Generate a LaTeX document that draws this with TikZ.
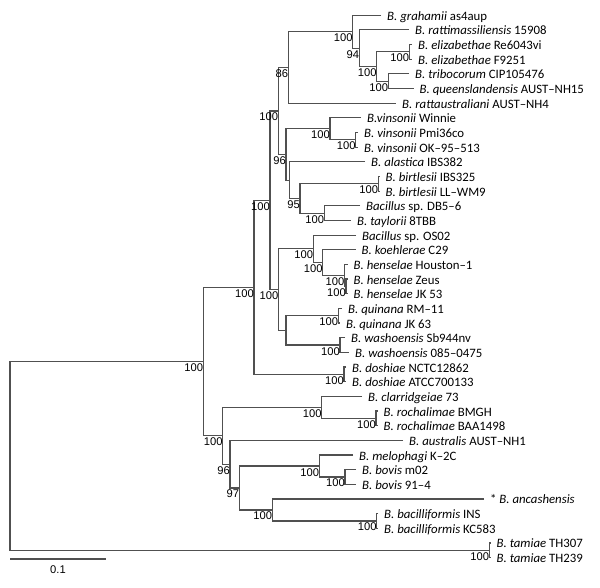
\documentclass[tikz,border=0pt]{standalone}
\usepackage{fontspec}
\setmainfont{Carlito}
\newfontfamily\bsfont{Liberation Sans}
\definecolor{linegray}{RGB}{80,80,80}
\begin{document}
\begin{tikzpicture}[x=1pt,y=-1pt,
  br/.style={draw=linegray, line width=1.2pt},
  leaf/.style={anchor=base west, inner sep=0pt, xshift=6pt, yshift=-5pt, font=\fontsize{12.8}{14}\selectfont, text=black},
  bs/.style={anchor=base east, inner sep=0pt, yshift=-10pt, font=\bsfont\fontsize{11.2}{13}\selectfont, text=black}]
\useasboundingbox (0,0) rectangle (600,587);
% leaf tips
\coordinate (l1) at (381,15.20);
\coordinate (l2) at (409,29.86);
\coordinate (l3) at (412,44.52);
\coordinate (l4) at (412,59.18);
\coordinate (l5) at (409,73.84);
\coordinate (l6) at (413.5,88.50);
\coordinate (l7) at (396,103.16);
\coordinate (l8) at (361,117.82);
\coordinate (l9) at (358,132.48);
\coordinate (l10) at (358,147.14);
\coordinate (l11) at (365,161.80);
\coordinate (l12) at (379.5,176.46);
\coordinate (l13) at (379.5,191.12);
\coordinate (l14) at (360,205.78);
\coordinate (l15) at (351,220.44);
\coordinate (l16) at (356,235.10);
\coordinate (l17) at (355.5,249.76);
\coordinate (l18) at (347.5,264.42);
\coordinate (l19) at (347.5,279.08);
\coordinate (l20) at (347.5,293.74);
\coordinate (l21) at (342,308.40);
\coordinate (l22) at (340,323.06);
\coordinate (l23) at (345,337.72);
\coordinate (l24) at (349,352.38);
\coordinate (l25) at (346,367.04);
\coordinate (l26) at (346,381.70);
\coordinate (l27) at (362,396.36);
\coordinate (l28) at (377.5,411.02);
\coordinate (l29) at (377.5,425.68);
\coordinate (l30) at (403,440.34);
\coordinate (l31) at (353,455.00);
\coordinate (l32) at (356,469.66);
\coordinate (l33) at (356,484.32);
\coordinate (l34) at (484,498.98);
\coordinate (l35) at (378,513.64);
\coordinate (l36) at (378,528.30);
\coordinate (l37) at (490.5,542.96);
\coordinate (l38) at (490.5,557.62);
% internal nodes
\coordinate (Z3) at (388.3,81.17);
\coordinate (El) at (409.3,51.85);
\coordinate (Z2) at (376.7,66.51);
\coordinate (Z) at (359.3,48.19);
\coordinate (Gr) at (352.7,31.70);
\coordinate (G) at (288.3,67.43);
\coordinate (V2) at (355.7,139.81);
\coordinate (V) at (330,128.82);
\coordinate (Bi) at (378.3,183.79);
\coordinate (L) at (324.3,213.11);
\coordinate (K) at (300,198.45);
\coordinate (J) at (289.3,180.13);
\coordinate (I) at (286,154.48);
\coordinate (H) at (278.3,110.96);
\coordinate (P2) at (346,286.41);
\coordinate (P) at (344.5,275.42);
\coordinate (O) at (322.7,262.59);
\coordinate (N) at (313.3,248.85);
\coordinate (Qu) at (338.3,315.73);
\coordinate (Wa) at (340,345.05);
\coordinate (Q) at (286,330.39);
\coordinate (M) at (278.5,289.62);
\coordinate (D) at (270,200.29);
\coordinate (Dsh) at (344,374.37);
\coordinate (C) at (254,287.33);
\coordinate (Ro) at (376,418.35);
\coordinate (S) at (321.7,407.36);
\coordinate (Bo) at (345,476.99);
\coordinate (X) at (319.3,466.00);
\coordinate (Ba) at (376.7,520.97);
\coordinate (Y) at (272.3,509.98);
\coordinate (W) at (239.3,487.99);
\coordinate (U) at (230,464.17);
\coordinate (B) at (222.7,435.77);
\coordinate (A) at (203.3,361.55);
\coordinate (T) at (489.3,550.29);
\coordinate (R) at (10,455.92);
% branches
\draw[br] (A) -| (R) |- (T);
\draw[br] (C) -| (A) |- (B);
\draw[br] (D) -| (C) |- (Dsh);
\draw[br] (H) -| (D) |- (M);
\draw[br] (G) -| (H) |- (I);
\draw[br] (Gr) -| (G) |- (l7);
\draw[br] (l1) -| (Gr) |- (Z);
\draw[br] (l2) -| (Z) |- (Z2);
\draw[br] (El) -| (Z2) |- (Z3);
\draw[br] (l3) -| (El) |- (l4);
\draw[br] (l5) -| (Z3) |- (l6);
\draw[br] (V) -| (I) |- (J);
\draw[br] (l8) -| (V) |- (V2);
\draw[br] (l9) -| (V2) |- (l10);
\draw[br] (l11) -| (J) |- (K);
\draw[br] (Bi) -| (K) |- (L);
\draw[br] (l12) -| (Bi) |- (l13);
\draw[br] (l14) -| (L) |- (l15);
\draw[br] (N) -| (M) |- (Q);
\draw[br] (l16) -| (N) |- (O);
\draw[br] (l17) -| (O) |- (P);
\draw[br] (l18) -| (P) |- (P2);
\draw[br] (l19) -| (P2) |- (l20);
\draw[br] (Qu) -| (Q) |- (Wa);
\draw[br] (l21) -| (Qu) |- (l22);
\draw[br] (l23) -| (Wa) |- (l24);
\draw[br] (l25) -| (Dsh) |- (l26);
\draw[br] (S) -| (B) |- (U);
\draw[br] (l27) -| (S) |- (Ro);
\draw[br] (l28) -| (Ro) |- (l29);
\draw[br] (l30) -| (U) |- (W);
\draw[br] (X) -| (W) |- (Y);
\draw[br] (l31) -| (X) |- (Bo);
\draw[br] (l32) -| (Bo) |- (l33);
\draw[br] (l34) -| (Y) |- (Ba);
\draw[br] (l35) -| (Ba) |- (l36);
\draw[br] (l37) -| (T) |- (l38);
% bootstrap values
\node[bs] (bGr) at (Gr) {100};
\node[bs] (bZ) at (Z) {94};
\node[bs] (bZ2) at (Z2) {100};
\node[bs] (bEl) at (El) {100};
\node[bs] (bZ3) at (Z3) {100};
\node[bs] (bG) at (G) {86};
\node[bs] (bH) at (H) {100};
\node[bs] (bV) at (V) {100};
\node[bs] (bV2) at (V2) {100};
\node[bs] (bI) at (I) {96};
\node[bs] (bK) at (K) {95};
\node[bs] (bBi) at (Bi) {100};
\node[bs] (bL) at (L) {100};
\node[bs] (bD) at (D) {100};
\node[bs] (bM) at (M) {100};
\node[bs] (bN) at (N) {100};
\node[bs] (bO) at (O) {100};
\node[bs] (bP) at (P) {100};
\node[bs] (bP2) at (P2) {100};
\node[bs] (bQu) at (Qu) {100};
\node[bs] (bWa) at (Wa) {100};
\node[bs] (bDsh) at (Dsh) {100};
\node[bs] (bC) at (C) {100};
\node[bs] (bA) at (A) {100};
\node[bs] (bS) at (S) {100};
\node[bs] (bRo) at (Ro) {100};
\node[bs] (bB) at (B) {100};
\node[bs] (bU) at (U) {96};
\node[bs] (bW) at (W) {97};
\node[bs] (bX) at (X) {100};
\node[bs] (bBo) at (Bo) {100};
\node[bs] (bY) at (Y) {100};
\node[bs] (bBa) at (Ba) {100};
\node[bs] (bT) at (T) {100};
% leaf labels
\node[leaf] (t1) at (l1) {\textit{B. grahamii} as4aup};
\node[leaf] (t2) at (l2) {\textit{B. rattimassiliensis} 15908};
\node[leaf] (t3) at (l3) {\textit{B. elizabethae} Re6043vi};
\node[leaf] (t4) at (l4) {\textit{B. elizabethae} F9251};
\node[leaf] (t5) at (l5) {\textit{B. tribocorum} CIP105476};
\node[leaf] (t6) at (l6) {\textit{B. queenslandensis} AUST–NH15};
\node[leaf] (t7) at (l7) {\textit{B. rattaustraliani} AUST–NH4};
\node[leaf] (t8) at (l8) {\textit{B.vinsonii} Winnie};
\node[leaf] (t9) at (l9) {\textit{B. vinsonii} Pmi36co};
\node[leaf] (t10) at (l10) {\textit{B. vinsonii} OK–95–513};
\node[leaf] (t11) at (l11) {\textit{B. alastica} IBS382};
\node[leaf] (t12) at (l12) {\textit{B. birtlesii} IBS325};
\node[leaf] (t13) at (l13) {\textit{B. birtlesii} LL–WM9};
\node[leaf] (t14) at (l14) {\textit{Bacillus} sp. DB5–6};
\node[leaf] (t15) at (l15) {\textit{B. taylorii} 8TBB};
\node[leaf] (t16) at (l16) {\textit{Bacillus} sp. OS02};
\node[leaf] (t17) at (l17) {\textit{B. koehlerae} C29};
\node[leaf] (t18) at (l18) {\textit{B. henselae} Houston–1};
\node[leaf] (t19) at (l19) {\textit{B. henselae} Zeus};
\node[leaf] (t20) at (l20) {\textit{B. henselae} JK 53};
\node[leaf] (t21) at (l21) {\textit{B. quinana} RM–11};
\node[leaf] (t22) at (l22) {\textit{B. quinana} JK 63};
\node[leaf] (t23) at (l23) {\textit{B. washoensis} Sb944nv};
\node[leaf] (t24) at (l24) {\textit{B. washoensis} 085–0475};
\node[leaf] (t25) at (l25) {\textit{B. doshiae} NCTC12862};
\node[leaf] (t26) at (l26) {\textit{B. doshiae} ATCC700133};
\node[leaf] (t27) at (l27) {\textit{B. clarridgeiae} 73};
\node[leaf] (t28) at (l28) {\textit{B. rochalimae} BMGH};
\node[leaf] (t29) at (l29) {\textit{B. rochalimae} BAA1498};
\node[leaf] (t30) at (l30) {\textit{B. australis} AUST–NH1};
\node[leaf] (t31) at (l31) {\textit{B. melophagi} K–2C};
\node[leaf] (t32) at (l32) {\textit{B. bovis} m02};
\node[leaf] (t33) at (l33) {\textit{B. bovis} 91–4};
\node[leaf] (t34) at (l34) {* \textit{B. ancashensis}};
\node[leaf] (t35) at (l35) {\textit{B. bacilliformis} INS};
\node[leaf] (t36) at (l36) {\textit{B. bacilliformis} KC583};
\node[leaf] (t37) at (l37) {\textit{B. tamiae} TH307};
\node[leaf] (t38) at (l38) {\textit{B. tamiae} TH239};
% scale bar
\coordinate (sb1) at (10,559);
\coordinate (sb2) at (106,559);
\draw[br] (sb1) -- (sb2);
\node[anchor=base, inner sep=0pt, font=\bsfont\fontsize{11.2}{13}\selectfont] (sbl) at (58,573) {0.1};
\end{tikzpicture}
\end{document}
